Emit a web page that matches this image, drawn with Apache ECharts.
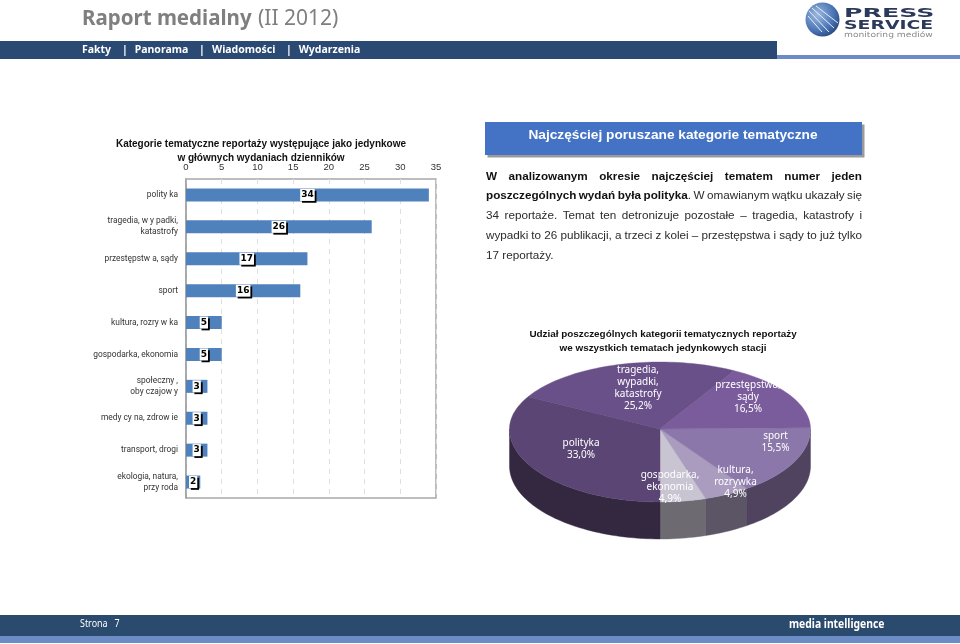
<!DOCTYPE html>
<html><head><meta charset="utf-8">
<style>html,body{margin:0;padding:0;background:#fff}#c{width:960px;height:644px}</style>
<script src="https://cdn.jsdelivr.net/npm/echarts@6/dist/echarts.min.js"></script>
</head><body><div id="c"></div>
<script>
// ---------- data ----------
const barCategories = ['polity ka','tragedia, w y padki,\nkatastrofy','przestępstw a, sądy','sport','kultura, rozry w ka','gospodarka, ekonomia','społeczny ,\noby czajow y','medy cy na, zdrow ie','transport, drogi','ekologia, natura,\nprzy roda'];
const barValues = [34,26,17,16,5,5,3,3,3,2];
const pieNames = ['gospodarka,\nekonomia','kultura,\nrozrywka','sport','przestępstwa,\nsądy','tragedia,\nwypadki,\nkatastrofy','polityka'];
const pieValues = [4.9,4.9,15.5,16.5,25.2,33.0];
const pieTopColors = ['#c9c4d2','#a99cbe','#8c77aa','#7a5c9c','#6a5089','#5a4574'];
const pieSideColors = ['#6d6a72','#5b5565','#4f435f','#4f435f','#4a3a60','#33283f'];
const pieLabelAnchors = [[670,487],[735.5,482.5],[775.5,442.5],[748,397],[638,388],[581,449]];
const navItems = [['Fakty',82],['|',122],['Panorama',134.7],['|',199],['Wiadomości',212],['|',286],['Wydarzenia',298.7]];
const barTitle = 'Kategorie tematyczne reportaży występujące jako jedynkowe\nw głównych wydaniach dzienników';
const pieTitle = 'Udział poszczególnych kategorii tematycznych reportaży\nwe wszystkich tematach jedynkowych stacji';
const paragraph = [
  [['W analizowanym okresie najczęściej tematem numer jeden',1]],
  [['poszczególnych wydań była polityka',1],['. W omawianym wątku ukazały się',0]],
  [['34 reportaże. Temat ten detronizuje pozostałe – tragedia, katastrofy i',0]],
  [['wypadki to 26 publikacji, a trzeci z kolei – przestępstwa i sądy to już tylko',0]],
  [['17 reportaży.',0]]
];
// ---------- pie geometry ----------
const P = {cx:660, cy:429, rx:150.5, ryTop:67, ryBottom:73, depth:37};
const total = pieValues.reduce((a,b)=>a+b,0);
const startAngles = []; { let acc=0; pieValues.forEach(v=>{startAngles.push(acc/total*Math.PI*2); acc+=v;}); }
function ell(a){ const c=Math.cos(a); return [P.cx+Math.sin(a)*P.rx, P.cy+c*(c>0?P.ryBottom:P.ryTop)]; }
function arc(a0,a1){ const n=Math.max(2,Math.ceil((a1-a0)/0.03)), r=[]; for(let i=0;i<=n;i++) r.push(ell(a0+(a1-a0)*i/n)); return r; }
function sliceRange(i){ return [startAngles[i], startAngles[i]+pieValues[i]/total*Math.PI*2]; }
function renderTop(params){
  const i=params.dataIndex, [a0,a1]=sliceRange(i);
  return {type:'polygon',shape:{points:[[P.cx,P.cy]].concat(arc(a0,a1))},style:{fill:pieTopColors[i],stroke:pieTopColors[i],lineWidth:0.4}};
}
function renderLabel(params){
  const i=params.dataIndex;
  return {type:'text',style:{text:pieNames[i]+'\n'+pieValues[i].toFixed(1).replace('.',',')+'%',x:pieLabelAnchors[i][0],y:pieLabelAnchors[i][1],align:'center',verticalAlign:'middle',fill:'#fff',font:'10px "Noto Sans"',lineHeight:12}};
}
function renderSide(params){
  const i=params.dataIndex; let [a0,a1]=sliceRange(i);
  const segs=[];
  const HP=Math.PI/2;
  if(a0<HP) segs.push([a0,Math.min(a1,HP)]);
  if(a1>3*HP) segs.push([Math.max(a0,3*HP),a1]);
  return {type:'group',children:segs.map(s=>{
    const top=arc(s[0],s[1]); const bot=top.map(p=>[p[0],p[1]+P.depth]).reverse();
    return {type:'polygon',shape:{points:top.concat(bot)},style:{fill:pieSideColors[i],stroke:pieSideColors[i],lineWidth:0.4}};
  })};
}
// ---------- page furniture ----------
const g=[];
const rect=(x,y,w,h,fill,extra)=>g.push({type:'rect',shape:{x,y,width:w,height:h},style:Object.assign({fill},extra||{}),silent:true});
const text=(x,y,t,font,fill,extra)=>g.push(Object.assign({type:'text',x,y,silent:true,style:{text:t,font,fill,verticalAlign:'middle'}},extra||{}));
rect(0,41,777,18,'#2a4a73');
rect(777,55,183,4,'#6b8cc4');
rect(0,615,960,21,'#2a4a6e');
rect(0,636,960,7,'#6b8cc4');
text(82,19,'Raport medialny','bold 20.5px "Noto Sans"','#7f7f7f');
text(258,19,'(II 2012)','21px "Noto Sans"','#7f7f7f');
navItems.forEach(n=>text(n[1],50,n[0],'bold 10.5px "Noto Sans"','#fff'));
text(80,624,'Strona   7','10.5px "Noto Sans"','#fff',{scaleX:0.85});
text(789,625,'media intelligence','bold 11.5px "Noto Sans"','#fff',{scaleX:0.9});
// logo
g.push({type:'circle',silent:true,shape:{cx:822.5,cy:19.5,r:17},style:{fill:new echarts.graphic.RadialGradient(0.35,0.35,0.8,[{offset:0,color:'#9db8df'},{offset:0.6,color:'#4a75b5'},{offset:1,color:'#1f3a6b'}])}});
[[809,11,829,32],[812,8,834,28],[816,6,838,23],[808,16,822,32]].forEach(l=>g.push({type:'line',silent:true,shape:{x1:l[0],y1:l[1],x2:l[2],y2:l[3]},style:{stroke:'#e8eef8',lineWidth:1}}));
text(844,13.5,'PRESS','bold 13px "DejaVu Sans"','#2b3a5a',{scaleX:1.94});
text(844,25.5,'SERVICE','bold 12px "DejaVu Sans"','#2b3a5a',{scaleX:1.57});
text(844,35.5,'monitoring mediów','7.5px "DejaVu Sans"','#8a8a8a',{scaleX:1.22});
// heading box
rect(485,122,377,33,'#4472c4',{shadowColor:'#9a9a9a',shadowOffsetX:2.5,shadowOffsetY:2.5});
g.push({type:'text',x:673,y:135,silent:true,style:{text:'Najczęściej poruszane kategorie tematyczne',font:'bold 13.7px "Liberation Sans"',fill:'#fff',align:'center',verticalAlign:'middle'}});
// justified paragraph
(function(){
  const FS=11.7, X0=486, X1=862, Y0=176.5, LH=19.75;
  const ctx=document.createElement('canvas').getContext('2d');
  const fnt=b=>(b?'bold ':'')+FS+'px "Liberation Sans"';
  paragraph.forEach((line,li)=>{
    const words=[];
    line.forEach(([t,b])=>{
      const parts=t.split(' ');
      parts.forEach((w,k)=>{
        if(k===0&&words.length&&t[0]==='.'){ words.push({w,b,glue:true}); }
        else words.push({w,b});
      });
    });
    words.forEach(o=>{ctx.font=fnt(o.b);o.len=ctx.measureText(o.w).width;});
    const sum=words.reduce((a,o)=>a+o.len,0);
    const gaps=words.filter(o=>!o.glue).length-1;
    const last=li===paragraph.length-1;
    const gap=last?3.3:(X1-X0-sum)/gaps;
    let x=X0;
    words.forEach((o,i)=>{
      if(i>0&&!o.glue) x+=gap;
      text(x,Y0+li*LH,o.w,fnt(o.b),o.b?'#111':'#2b2b2b');
      x+=o.len;
    });
  });
})();
// ---------- chart ----------
const chart=echarts.init(document.getElementById('c'),null,{renderer:'canvas'});
chart.setOption({
  animation:false,
  backgroundColor:'#fff',
  title:[
    {text:barTitle,left:256,top:132.5,textAlign:'center',textStyle:{fontFamily:'Liberation Sans',fontSize:10,fontWeight:'bold',color:'#111',lineHeight:13.5,align:'center'}},
    {text:pieTitle,left:658,top:322,textAlign:'center',textStyle:{fontFamily:'Liberation Sans',fontSize:9.9,fontWeight:'bold',color:'#111',lineHeight:14,align:'center'}}
  ],
  grid:{left:186,top:179,width:250,height:319,containLabel:false,show:true,borderColor:'#a8a8a8',borderWidth:1.5,backgroundColor:'transparent'},
  xAxis:{type:'value',position:'top',min:0,max:35,interval:5,
    axisLine:{show:false},axisTick:{show:false},
    axisLabel:{margin:7,fontFamily:'Liberation Sans',fontSize:9.5,color:'#333'},
    splitLine:{show:true,lineStyle:{color:'#dfdfdf',type:[5,5],width:1}}},
  yAxis:{type:'category',inverse:true,data:barCategories,
    axisLine:{show:true,lineStyle:{color:'#a0a0a0',width:1.5}},axisTick:{show:false},
    axisLabel:{margin:8,fontFamily:'Roboto',fontSize:8.4,color:'#333',lineHeight:11,align:'right'}},
  series:[
    {type:'bar',data:barValues,barWidth:13,itemStyle:{color:'#4f81bd'},
      label:{show:true,position:'inside',formatter:'{c}',color:'#000',fontFamily:'DejaVu Sans',fontWeight:'bold',fontSize:9,backgroundColor:'#fff',padding:[2,1,1,1],shadowColor:'#000',shadowBlur:0,shadowOffsetX:1.8,shadowOffsetY:1.8}},
    {type:'custom',coordinateSystem:'none',data:pieValues,renderItem:renderSide,z:3,silent:true},
    {type:'custom',coordinateSystem:'none',data:pieValues,renderItem:renderTop,z:4,silent:true},
    {type:'custom',coordinateSystem:'none',data:pieValues,renderItem:renderLabel,z:5,silent:true}
  ],
  graphic:{elements:g}
});
</script></body></html>
